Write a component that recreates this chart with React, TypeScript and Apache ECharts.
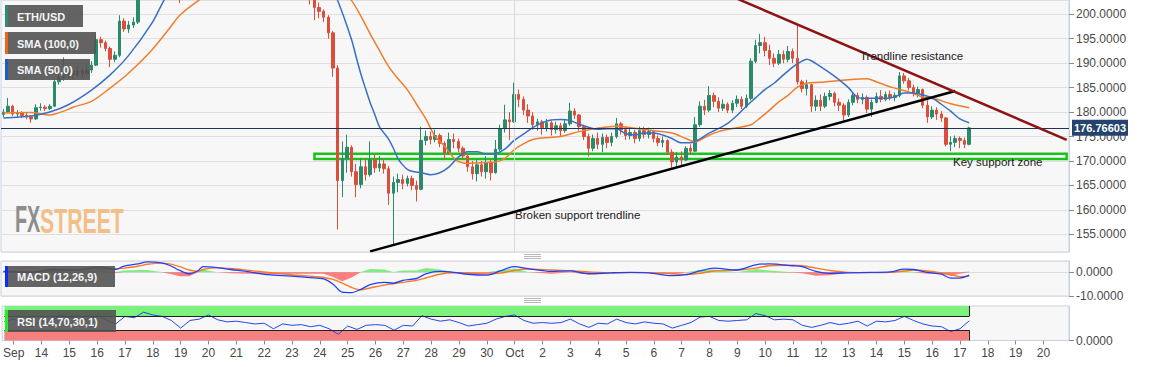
import React, { useEffect, useRef } from "react";
import * as echarts from "echarts";

// ETH/USD, 4-hour bars; first bar = 12 Sep 16:00, last bar = 17 Oct 08:00
const FIRST_OPEN = 179.5;
const CLOSE = [
  180.0, 181.2,
  179.6, 179.8, 179.3, 179.0, 178.6, 180.9,
  181.0, 180.7, 181.2, 186.2, 187.0, 187.6,
  188.5, 187.6, 188.4, 187.8, 188.6, 189.6,
  194.8, 194.2, 193.0, 190.8, 191.6, 198.6,
  197.0, 197.8, 198.4, 204.5, 206.8, 207.5,
  209.5, 211.0, 212.2, 210.8, 209.0, 207.4,
  205.6, 210.5, 215.0, 221.0, 222.5, 221.8,
  219.5, 218.2, 219.6, 218.0, 217.4, 218.3,
  217.0, 215.8, 216.4, 214.8, 213.2, 214.0,
  212.6, 211.0, 212.2, 211.5, 210.6, 211.2,
  209.4, 207.0, 205.4, 204.6, 204.0, 201.4,
  200.6, 199.4, 196.2, 189.0, 166.0, 170.5,
  172.8, 167.8, 165.2, 168.8, 167.2, 170.2,
  168.6, 169.4, 168.4, 163.4, 165.6, 166.2,
  165.4, 166.4, 165.0, 164.2, 174.2, 175.0,
  174.4, 175.2, 173.6, 171.6, 174.4, 174.0,
  172.6, 171.0, 168.8, 167.4, 169.2, 167.8,
  169.6, 167.6, 172.4, 176.6, 178.4, 178.0,
  183.6, 182.6, 180.4, 179.2, 177.4, 178.0,
  176.8, 177.8, 176.4, 177.2, 176.2, 177.6,
  180.2, 179.4, 177.0, 175.0, 172.6, 174.6,
  173.4, 174.8, 173.8, 175.0, 177.6, 176.4,
  175.2, 175.8, 174.6, 176.2, 175.4, 176.0,
  174.6, 173.8, 174.2, 171.8, 169.8, 170.8,
  170.2, 172.6, 172.0, 177.4, 181.2, 180.4,
  183.4, 182.2, 180.8, 181.6, 180.4, 181.8,
  182.6, 181.2, 182.8, 190.4, 193.6, 194.2,
  192.6, 191.0, 190.0, 191.8, 190.8, 192.4,
  191.0, 186.2, 184.8, 185.6, 181.2, 182.4,
  181.2, 183.2, 183.8, 182.0, 181.4, 179.4,
  182.0, 183.4, 182.6, 183.0, 180.6, 182.0,
  183.2, 182.6, 183.6, 183.0, 183.4, 187.4,
  186.4, 185.0, 183.8, 184.6, 181.4, 179.0,
  180.4, 179.6, 178.8, 173.4, 173.8, 174.6,
  174.2, 173.4, 176.76603,
];
const HIGH = [
  180.6, 182.9,
  181.5, 180.4, 180.2, 179.8, 179.4, 181.6,
  181.8, 181.4, 181.6, 186.8, 187.8, 191.2,
  189.6, 189.0, 189.4, 189.0, 189.8, 190.4,
  195.8, 195.4, 194.6, 193.4, 192.4, 199.8,
  199.2, 198.6, 199.4, 206.0, 208.0, 209.0,
  211.0, 212.5, 214.0, 213.0, 211.5, 209.8,
  208.0, 212.0, 217.0, 223.5, 225.0, 224.0,
  222.5, 220.5, 221.0, 220.2, 219.0, 219.4,
  218.8, 217.6, 217.5, 216.8, 215.2, 214.9,
  214.6, 213.0, 213.2, 213.0, 212.0, 212.4,
  211.6, 209.8, 207.6, 206.2, 205.4, 204.4,
  202.4, 201.0, 199.8, 196.6, 189.6, 174.0,
  175.4, 173.2, 169.4, 170.4, 170.6, 174.0,
  171.4, 171.0, 170.6, 169.0, 166.8, 167.4,
  167.2, 167.0, 167.0, 166.0, 177.0, 176.2,
  176.0, 176.4, 175.6, 174.0, 175.8, 175.6,
  174.6, 173.0, 171.6, 170.0, 170.4, 170.0,
  171.0, 170.2, 174.3, 177.4, 181.5, 180.0,
  186.0, 184.6, 183.2, 181.6, 180.0, 178.6,
  178.4, 178.6, 178.2, 178.0, 177.8, 178.4,
  181.9, 180.8, 179.6, 177.4, 175.6, 175.4,
  175.8, 175.6, 175.4, 175.8, 178.8, 178.0,
  177.0, 176.6, 176.4, 177.0, 177.0, 176.8,
  176.4, 175.2, 175.0, 174.4, 172.4, 171.8,
  172.0, 173.0, 173.4, 179.0, 182.2, 182.5,
  185.3, 184.0, 183.0, 182.6, 182.0, 182.4,
  183.4, 183.2, 183.6, 191.0, 194.8, 196.0,
  195.4, 193.8, 192.0, 192.7, 192.6, 193.5,
  193.0, 197.8, 186.6, 186.6, 185.8, 183.4,
  183.6, 184.0, 184.5, 184.2, 182.8, 181.8,
  182.6, 184.0, 184.0, 183.8, 183.4, 182.6,
  184.0, 184.5, 184.2, 184.4, 184.0, 188.2,
  188.0, 187.0, 185.6, 185.2, 184.8, 182.4,
  181.2, 181.0, 180.2, 179.0, 175.0, 175.2,
  175.0, 174.8, 177.0,
];
const LOW = [
  179.0, 179.8,
  179.2, 179.0, 178.8, 178.5, 177.8, 178.4,
  180.3, 180.2, 180.4, 181.0, 185.6, 186.4,
  187.0, 186.8, 187.2, 187.0, 187.6, 188.0,
  189.4, 193.2, 192.4, 189.2, 190.2, 191.2,
  196.4, 196.2, 197.2, 198.0, 204.0, 205.5,
  206.5, 208.8, 210.5, 209.5, 207.8, 205.6,
  202.3, 204.8, 209.8, 214.5, 219.5, 220.0,
  217.5, 216.8, 217.6, 216.5, 216.0, 216.8,
  215.8, 214.6, 214.8, 213.6, 211.8, 212.5,
  211.4, 209.8, 210.4, 210.2, 209.0, 209.8,
  208.2, 206.2, 204.2, 203.8, 202.0, 198.8,
  199.2, 198.4, 195.0, 187.2, 156.0, 162.6,
  167.6, 166.8, 162.6, 164.4, 166.0, 166.8,
  167.6, 167.8, 167.4, 161.0, 153.0, 163.6,
  164.2, 164.8, 164.0, 161.7, 164.0, 173.2,
  173.4, 173.8, 172.8, 170.3, 171.2, 172.6,
  171.8, 170.2, 167.8, 166.2, 165.8, 166.8,
  166.4, 166.0, 167.4, 172.0, 175.8, 174.3,
  177.8, 181.0, 179.4, 177.8, 176.4, 176.2,
  175.4, 176.0, 175.2, 175.6, 175.0, 175.8,
  177.2, 178.6, 176.2, 174.3, 170.9, 172.0,
  172.4, 171.8, 172.6, 173.0, 174.6, 175.4,
  174.3, 174.4, 173.6, 174.0, 174.6, 174.6,
  173.8, 173.0, 172.8, 171.2, 168.6, 168.8,
  169.0, 170.0, 171.2, 171.8, 177.0, 179.4,
  180.0, 181.0, 180.0, 180.2, 179.8, 179.8,
  181.0, 180.6, 180.8, 182.4, 190.0, 192.0,
  191.4, 189.6, 189.2, 189.6, 190.0, 190.2,
  190.0, 185.6, 184.0, 183.4, 180.0, 180.2,
  180.2, 180.8, 182.4, 181.2, 180.2, 178.0,
  179.0, 181.4, 181.8, 181.6, 179.8, 179.0,
  181.8, 182.0, 182.2, 182.4, 182.2, 183.0,
  185.8, 184.4, 183.2, 183.0, 180.8, 177.8,
  178.6, 178.4, 178.0, 173.0, 172.0, 172.8,
  172.6, 172.6, 173.2,
];

// [bar, value]
const SMA50 = [
  [0, 178.8], [6, 179.2], [10, 180.0], [14, 181.5], [19, 184.5], [23, 187.6], [27, 191.6],
  [32, 198.2], [35, 203.5], [38, 207.0], [44, 212.0], [50, 215.5], [56, 216.5], [60, 215.0],
  [64, 212.0], [68, 209.0], [70, 206.5], [72, 202.8], [75, 194.8], [76, 191.2], [77, 187.8],
  [78, 184.8], [79, 181.9], [80, 179.5], [81, 177.0], [82, 175.7], [83, 174.4], [84, 172.6],
  [85, 170.5], [86, 169.2], [87, 168.3], [88, 167.9], [90, 167.6], [92, 167.2], [94, 167.6],
  [96, 168.8], [98, 170.8], [100, 171.9], [102, 171.9], [104, 171.4], [106, 171.5], [108, 172.4],
  [110, 174.2], [112, 175.5], [114, 176.8], [116, 177.8], [118, 178.4], [120, 178.5], [122, 178.3],
  [124, 177.5], [126, 176.9], [128, 176.5], [130, 176.6], [132, 176.6], [134, 175.6], [136, 175.3],
  [138, 175.7], [140, 175.7], [142, 175.3], [144, 174.6], [146, 173.7], [148, 173.7], [150, 174.5],
  [152, 175.7], [154, 176.6], [156, 177.7], [158, 179.3], [160, 181.2], [162, 182.9], [164, 184.6],
  [166, 185.9], [168, 187.6], [170, 189.2], [172, 190.4], [173, 190.8], [174, 190.5], [176, 189.3],
  [178, 188.0], [180, 186.6], [182, 185.0], [184, 183.0], [186, 182.8], [188, 182.8], [190, 182.8],
  [192, 183.1], [194, 183.9], [196, 183.9], [198, 183.5], [200, 182.9], [202, 181.6], [204, 180.2],
  [206, 178.6], [208, 177.8],
];
const SMA100 = [
  [0, 179.8], [6, 179.9], [10, 179.4], [13, 180.2], [15, 181.0], [19, 182.2], [23, 184.9],
  [27, 188.0], [32, 192.7], [36, 197.4], [38, 199.8], [42, 202.8], [48, 206.5], [54, 209.5],
  [60, 211.0], [66, 210.5], [70, 207.5], [73, 204.5], [75, 202.8], [77, 199.6], [79, 196.0],
  [81, 192.6], [83, 189.3], [85, 186.8], [87, 184.6], [89, 181.6], [91, 178.6], [93, 175.0],
  [95, 173.1], [96, 171.8], [97, 170.6], [98, 169.9], [100, 169.5], [102, 169.6], [104, 169.7],
  [106, 169.8], [108, 170.5], [110, 172.3], [112, 173.5], [114, 174.4], [116, 174.7], [120, 175.0],
  [124, 176.0], [128, 176.7], [132, 177.1], [136, 176.7], [140, 176.2], [144, 175.7], [147, 174.6],
  [149, 173.9], [151, 174.8], [154, 176.0], [158, 176.8], [161, 177.4], [163, 178.8], [165, 180.4],
  [167, 182.1], [169, 183.4], [171, 185.1], [173, 185.9], [176, 186.1], [182, 186.6], [186, 186.8],
  [188, 186.2], [190, 185.5], [192, 184.9], [195, 184.1], [198, 183.1], [201, 182.6], [204, 181.7],
  [208, 180.9],
];

// MACD (12,26,9): [bar, value]
const MACD_LINE = [
  [0, 0.3], [6, 0.0], [11, 1.2], [15, 1.0], [21, 2.2], [24, 1.2], [26, 2.6], [29, 3.6], [31, 4.4],
  [34, 4.0], [36, 2.8], [38, 0.8], [40, -0.6], [42, 0.8], [43, 2.4], [46, 2.0], [49, 1.2], [53, 0.2],
  [57, -1.0], [62, -1.6], [66, -2.2], [69, -2.8], [71, -5.0], [73, -8.4], [75, -8.6], [77, -7.2],
  [79, -5.2], [82, -4.2], [84, -4.6], [86, -3.4], [89, -2.6], [91, -0.6], [94, 0.4], [97, 0.0],
  [100, -0.8], [104, -1.2], [107, 0.6], [110, 2.4], [113, 1.6], [118, 0.4], [122, 0.6], [126, -0.6],
  [131, -0.2], [135, 0.0], [139, -0.2], [144, -1.4], [147, -1.0], [150, 0.6], [153, 1.8], [158, 1.0],
  [162, 3.2], [165, 3.6], [170, 2.8], [172, 2.4], [175, 0.4], [178, -0.4], [182, -0.2], [187, 0.0],
  [191, 0.2], [194, 1.4], [196, 1.2], [199, 0.0], [202, -0.8], [204, -2.4], [206, -2.4], [208, -1.2],
];
const MACD_SIGNAL = [
  [0, 0.5], [6, 0.3], [11, 0.6], [15, 0.9], [21, 1.4], [24, 1.5], [26, 1.8], [29, 2.6], [31, 3.4],
  [34, 3.9], [36, 3.5], [38, 2.4], [40, 1.0], [42, 0.4], [43, 1.2], [46, 2.0], [49, 1.6], [53, 0.8],
  [57, 0.0], [62, -1.0], [66, -1.6], [69, -2.2], [71, -3.0], [73, -4.6], [75, -6.4], [77, -7.4],
  [79, -6.6], [82, -5.4], [84, -4.8], [86, -4.2], [89, -3.4], [91, -2.4], [94, -0.8], [97, -0.2],
  [100, -0.3], [104, -0.7], [107, -0.3], [110, 0.8], [113, 1.4], [118, 1.0], [122, 0.7], [126, 0.2],
  [131, -0.2], [135, -0.1], [139, -0.1], [144, -0.6], [147, -0.9], [150, -0.4], [153, 0.6], [158, 1.0],
  [162, 1.8], [165, 2.8], [170, 3.0], [172, 2.8], [175, 1.8], [178, 0.8], [182, 0.0], [187, -0.1],
  [191, 0.0], [194, 0.6], [196, 1.0], [199, 0.6], [202, -0.2], [204, -1.0], [206, -1.8], [208, -1.6],
];
const MACD_HIST = [
  [0, -0.2], [6, -0.3], [11, 0.6], [15, 0.1], [21, 0.8], [24, -0.3], [26, 0.8], [29, 1.0], [31, 1.0],
  [34, 0.1], [36, -0.7], [38, -1.6], [40, -1.6], [42, 0.4], [43, 1.2], [46, 0.0], [49, -0.4], [53, -0.6],
  [57, -1.0], [62, -0.6], [66, -0.6], [69, -0.6], [71, -2.0], [73, -3.8], [75, -2.2], [77, 0.2],
  [79, 1.4], [82, 1.2], [84, 0.2], [86, 0.8], [89, 0.8], [91, 1.8], [94, 1.2], [97, 0.2],
  [100, -0.5], [104, -0.5], [107, 0.9], [110, 1.6], [113, 0.2], [118, -0.6], [122, -0.1], [126, -0.8],
  [131, 0.0], [135, 0.1], [139, -0.1], [144, -0.8], [147, -0.1], [150, 1.0], [153, 1.2], [158, 0.0],
  [162, 1.4], [165, 0.8], [170, -0.2], [172, -0.4], [175, -1.4], [178, -1.2], [182, -0.2], [187, 0.1],
  [191, 0.2], [194, 0.8], [196, 0.2], [199, -0.6], [202, -0.6], [204, -1.4], [206, -0.6], [208, 0.4],
];

// RSI (14), one value every 2 bars starting at bar 0
const RSI_STEP = 2;
const RSI = [
  55, 62, 50, 40, 58, 52, 75, 68, 62, 60, 72,
  60, 48, 70, 66, 82, 74, 70, 58, 36, 58,
  62, 74, 60, 54, 56, 52, 48, 50, 34, 48,
  44, 46, 40, 44, 34, 18, 42, 32, 44, 46,
  44, 30, 44, 42, 72, 62, 56, 60, 52, 42,
  46, 50, 62, 70, 74, 58, 50, 52, 50, 52,
  62, 48, 38, 50, 48, 62, 52, 48, 54, 50,
  48, 36, 44, 52, 68, 70, 58, 56, 58, 60,
  78, 72, 60, 62, 60, 44, 38, 44, 52, 46,
  50, 56, 42, 56, 54, 58, 70, 58, 48, 42,
  40, 26, 34, 57,
];
const RSI_OVERBOUGHT = 70;
const RSI_OVERSOLD = 30;

// Axis: 4-hour bars from 12 Sep 16:00 to 20 Oct 20:00
const BAR_COUNT = 230;
const FIRST_DAY_BAR = 2;
const BARS_PER_DAY = 6;
const OCT_1_BAR = 110;
const DAY_LABELS = [
  "Sep", "14", "15", "16", "17", "18", "19", "20", "21", "22", "23", "24", "25", "26", "27", "28", "29", "30",
  "Oct", "2", "3", "4", "5", "6", "7", "8", "9", "10", "11", "12", "13", "14", "15", "16", "17", "18", "19", "20",
];

// Drawn studies (bar, price)
const SUPPORT_TRENDLINE = [[79, 151.5], [205, 184.3]];
const RESISTANCE_TRENDLINE = [[158, 203.2], [229, 174.33]];
const SUPPORT_ZONE = { fromBar: 67, toBar: 229, low: 170.4, high: 171.5 };

const PRICE_MIN = 151.38;
const PRICE_MAX = 202.92;

const FONT = '"Liberation Sans", Arial, sans-serif';

function dayLabel(i: number): string {
  if (i < FIRST_DAY_BAR || (i - FIRST_DAY_BAR) % BARS_PER_DAY !== 0) return "";
  return DAY_LABELS[(i - FIRST_DAY_BAR) / BARS_PER_DAY] ?? "";
}
const isDay = (i: number) => dayLabel(i) !== "";

function legendBox(x: number, y: number, w: number, h: number, stripe: string, label: string) {
  return {
    type: "group",
    x,
    y,
    z: 100,
    children: [
      { type: "rect", z: 100, shape: { x: 0, y: 0, width: w, height: h }, style: { fill: "rgba(82,82,82,0.9)" } },
      { type: "rect", z: 101, shape: { x: 0, y: 0, width: 3, height: h }, style: { fill: stripe } },
      {
        type: "text",
        z: 102,
        x: 12,
        y: h / 2 + 0.5,
        style: {
          text: label,
          fill: "#f4f4f4",
          fontSize: 11,
          fontWeight: "bold",
          fontFamily: FONT,
          align: "left",
          verticalAlign: "middle",
        },
      },
    ],
  };
}

function handle(x: number, y: number) {
  return {
    type: "group",
    x,
    y,
    z: 60,
    children: [0, 2, 4].map((dy) => ({
      type: "line",
      shape: { x1: 0, y1: dy + 0.5, x2: 17, y2: dy + 0.5 },
      style: { stroke: "#9a9a9a", lineWidth: 0.7 },
    })),
  };
}

function noteText(x: number, y: number, text: string) {
  return {
    type: "text",
    x,
    y,
    z: 60,
    style: { text, fill: "#1b1b1b", fontSize: 11.5, fontFamily: FONT, align: "left", verticalAlign: "middle" },
  };
}

export default function App() {
  const ref = useRef<HTMLDivElement>(null);

  useEffect(() => {
    if (!ref.current) return;
    const chart = echarts.init(ref.current, undefined, { renderer: "svg" });

    const categories = Array.from({ length: BAR_COUNT }, (_, i) => String(i));
    let prev = FIRST_OPEN;
    const candles = CLOSE.map((c, i) => {
      const o = prev;
      prev = c;
      return [o, c, LOW[i], HIGH[i]];
    });
    const lastClose = CLOSE[CLOSE.length - 1];
    const lastBar = CLOSE.length - 1;
    const rsiData = RSI.map((v, k) => [k * RSI_STEP, v]);
    const histPos = MACD_HIST.map(([b, v]) => [b, Math.max(0, v)]);
    const histNeg = MACD_HIST.map(([b, v]) => [b, Math.min(0, v)]);

    const grids = [
      { left: 1, right: 84, top: 0, height: 252 },
      { left: 1, right: 84, top: 261, height: 35 },
      { left: 1, right: 84, top: 306, height: 34.5 },
    ].map((g) => ({ ...g, show: true, backgroundColor: "#f7f7f7", borderColor: "#c9d1e3", borderWidth: 1 }));

    const xAxes = [0, 1, 2].map((g) => ({
      type: "category",
      gridIndex: g,
      data: categories,
      boundaryGap: true,
      axisLine: { show: g === 2, lineStyle: { color: "#c9d1e3" } },
      axisTick: {
        show: g === 2,
        alignWithLabel: true,
        interval: (i: number) => isDay(i),
        length: 4,
        lineStyle: { color: "#8a8a8a" },
      },
      axisLabel: {
        show: g === 2,
        interval: (i: number) => isDay(i),
        formatter: (_v: string, i: number) => dayLabel(i),
        color: "#474747",
        fontSize: 12,
        fontFamily: FONT,
        margin: 6,
      },
      splitLine: { show: false },
    }));

    const yLabel = {
      color: "#4a4a4a",
      fontSize: 12,
      fontFamily: FONT,
      margin: 7,
      formatter: (v: number) => v.toFixed(4),
    };
    const yAxes = [
      {
        type: "value",
        gridIndex: 0,
        position: "right",
        min: PRICE_MIN,
        max: PRICE_MAX,
        splitNumber: 10,
        axisLine: { show: true, lineStyle: { color: "#c9d1e3" } },
        axisTick: { show: true, length: 5, lineStyle: { color: "#8a8a8a" } },
        axisLabel: { ...yLabel, showMinLabel: false, showMaxLabel: false },
        splitLine: { show: true, lineStyle: { color: "#e0e0e0", width: 1 } },
      },
      {
        type: "value",
        gridIndex: 1,
        position: "right",
        min: -10,
        max: 4.8,
        interval: 10,
        axisLine: { show: true, lineStyle: { color: "#c9d1e3" } },
        axisTick: { show: true, length: 5, lineStyle: { color: "#8a8a8a" } },
        axisLabel: { ...yLabel, showMaxLabel: false },
        splitLine: { show: true, lineStyle: { color: "#dedede", width: 1 } },
      },
      {
        type: "value",
        gridIndex: 2,
        position: "right",
        min: 0,
        max: 100,
        interval: 100,
        axisLine: { show: true, lineStyle: { color: "#c9d1e3" } },
        axisTick: { show: true, length: 5, lineStyle: { color: "#8a8a8a" } },
        axisLabel: { ...yLabel, showMaxLabel: false },
        splitLine: { show: false },
      },
    ];

    const option: any = {
      animation: false,
      backgroundColor: "#ffffff",
      grid: grids,
      xAxis: xAxes,
      yAxis: yAxes,
      series: [
        {
          type: "candlestick",
          name: "ETH/USD",
          xAxisIndex: 0,
          yAxisIndex: 0,
          data: candles,
          barWidth: 3,
          clip: true,
          z: 2,
          itemStyle: {
            color: "#2a8a6b",
            color0: "#dc4e3a",
            borderColor: "#2a8a6b",
            borderColor0: "#dc4e3a",
            borderWidth: 1,
          },
          markLine: {
            silent: true,
            symbol: ["none", "none"],
            animation: false,
            data: [
              {
                xAxis: OCT_1_BAR,
                lineStyle: { color: "#dadada", width: 1, type: "solid" },
                label: { show: false },
              },
              {
                yAxis: lastClose,
                lineStyle: { color: "#1c3558", width: 1, type: "solid" },
                label: {
                  show: true,
                  position: "end",
                  formatter: () => lastClose.toFixed(5),
                  backgroundColor: "#24446e",
                  color: "#ffffff",
                  fontWeight: "bold",
                  fontSize: 11,
                  fontFamily: FONT,
                  padding: [3, 2, 2, 2],
                  distance: 3,
                },
              },
            ],
          },
        },
        {
          type: "line",
          name: "SMA (100,0)",
          xAxisIndex: 0,
          yAxisIndex: 0,
          data: SMA100,
          showSymbol: false,
          symbol: "none",
          smooth: 0.3,
          z: 3,
          lineStyle: { color: "#f07e2c", width: 1.5 },
        },
        {
          type: "line",
          name: "SMA (50,0)",
          xAxisIndex: 0,
          yAxisIndex: 0,
          data: SMA50,
          showSymbol: false,
          symbol: "none",
          smooth: 0.3,
          z: 3,
          lineStyle: { color: "#3a6fc6", width: 1.5 },
        },
        {
          type: "line",
          name: "Broken support trendline",
          xAxisIndex: 0,
          yAxisIndex: 0,
          data: SUPPORT_TRENDLINE,
          symbol: "none",
          z: 5,
          lineStyle: { color: "#000000", width: 2.5 },
          markArea: {
            silent: true,
            data: [
              [
                { coord: [SUPPORT_ZONE.fromBar, SUPPORT_ZONE.low] },
                { coord: [SUPPORT_ZONE.toBar, SUPPORT_ZONE.high] },
              ],
            ],
            itemStyle: { color: "rgba(0,0,0,0)", borderColor: "#19c419", borderWidth: 2.5 },
          },
        },
        {
          type: "line",
          name: "Trendline resistance",
          xAxisIndex: 0,
          yAxisIndex: 0,
          data: RESISTANCE_TRENDLINE,
          symbol: "none",
          z: 5,
          lineStyle: { color: "#8e1414", width: 2.5 },
        },
        {
          type: "line",
          name: "hist+",
          xAxisIndex: 1,
          yAxisIndex: 1,
          data: histPos,
          symbol: "none",
          z: 2,
          lineStyle: { width: 0 },
          areaStyle: { color: "rgba(30,220,30,0.75)", origin: 0 },
        },
        {
          type: "line",
          name: "hist-",
          xAxisIndex: 1,
          yAxisIndex: 1,
          data: histNeg,
          symbol: "none",
          z: 2,
          lineStyle: { width: 0 },
          areaStyle: { color: "rgba(255,30,30,0.8)", origin: 0 },
        },
        {
          type: "line",
          name: "signal",
          xAxisIndex: 1,
          yAxisIndex: 1,
          data: MACD_SIGNAL,
          symbol: "none",
          smooth: 0.3,
          z: 3,
          lineStyle: { color: "#ff7a1a", width: 1.4 },
        },
        {
          type: "line",
          name: "MACD",
          xAxisIndex: 1,
          yAxisIndex: 1,
          data: MACD_LINE,
          symbol: "none",
          smooth: 0.3,
          z: 4,
          lineStyle: { color: "#2040ff", width: 1.3 },
        },
        {
          type: "line",
          name: "RSI",
          xAxisIndex: 2,
          yAxisIndex: 2,
          data: rsiData,
          symbol: "none",
          z: 4,
          lineStyle: { color: "#2446ee", width: 1 },
          markArea: {
            silent: true,
            data: [
              [
                { coord: [0, RSI_OVERBOUGHT], itemStyle: { color: "#7cf27c" } },
                { coord: [lastBar, 100] },
              ],
              [
                { coord: [0, 0], itemStyle: { color: "#f67f7f" } },
                { coord: [lastBar, RSI_OVERSOLD] },
              ],
            ],
          },
          markLine: {
            silent: true,
            symbol: ["none", "none"],
            label: { show: false },
            lineStyle: { color: "#222222", width: 1, type: "solid" },
            data: [
              [{ coord: [0, RSI_OVERBOUGHT] }, { coord: [lastBar, RSI_OVERBOUGHT] }],
              [{ coord: [0, RSI_OVERSOLD] }, { coord: [lastBar, RSI_OVERSOLD] }],
              [{ coord: [lastBar, RSI_OVERBOUGHT] }, { coord: [lastBar, 100] }],
              [{ coord: [lastBar, 0] }, { coord: [lastBar, RSI_OVERSOLD] }],
            ],
          },
        },
      ],
      graphic: [
        {
          type: "text",
          x: 15,
          y: 220,
          z: 1,
          scaleX: 0.55,
          style: {
            text: "FX",
            fill: "#8e8e8e",
            fontSize: 36,
            fontWeight: "bold",
            fontFamily: FONT,
            align: "left",
            verticalAlign: "middle",
          },
        },
        {
          type: "text",
          x: 40,
          y: 220,
          z: 1,
          scaleX: 0.59,
          style: {
            text: "STREET",
            fill: "#f2bf88",
            fontSize: 36,
            fontWeight: "bold",
            fontFamily: FONT,
            align: "left",
            verticalAlign: "middle",
          },
        },
        legendBox(5, 5, 78, 22, "#2e8a72", "ETH/USD"),
        legendBox(5, 32, 91, 22, "#e8671c", "SMA (100,0)"),
        legendBox(5, 59, 85, 21, "#1f5cc0", "SMA (50,0)"),
        legendBox(5, 266, 110, 21, "#0a2cff", "MACD (12,26,9)"),
        legendBox(5, 310, 111, 22, "#22ee22", "RSI (14,70,30,1)"),
        noteText(860, 56, "Trendline resistance"),
        noteText(953, 162, "Key support zone"),
        noteText(515, 215, "Broken support trendline"),
        handle(524, 254),
        handle(524, 298),
      ],
    };

    chart.setOption(option);
    return () => chart.dispose();
  }, []);

  return (
    <div
      ref={ref}
      style={{ position: "fixed", left: 0, top: 0, width: 1153, height: 367, background: "#ffffff" }}
    />
  );
}
